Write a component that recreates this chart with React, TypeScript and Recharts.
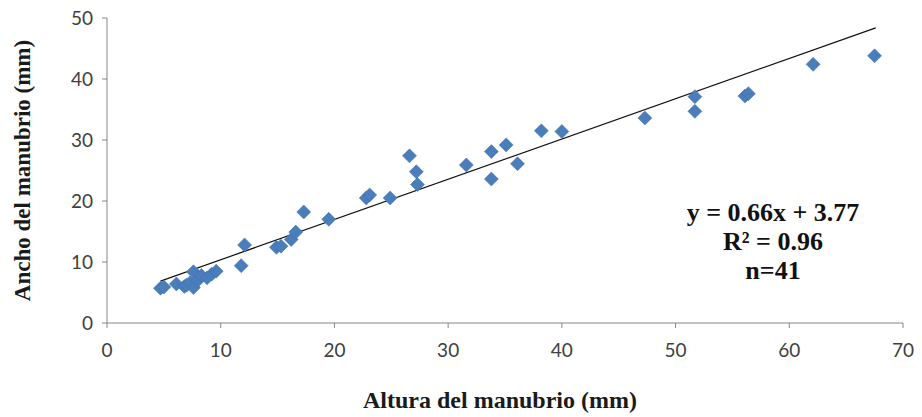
import * as React from 'react'
import {
  ScatterChart,
  Scatter,
  XAxis,
  YAxis,
  ReferenceLine
} from 'recharts'

// Altura del manubrio (mm)
const alturas = [
  4.7, 5.0, 6.1, 6.8, 7.0, 7.3, 7.6, 7.6, 8.0, 8.3,
  8.8, 9.2, 9.6, 11.8, 12.1, 14.9, 15.3, 16.2, 16.6, 17.3,
  19.5, 22.8, 23.1, 24.9, 26.6, 27.2, 27.3, 31.6, 33.8, 33.8,
  35.1, 36.1, 38.2, 40.0, 47.3, 51.7, 51.7, 56.1, 56.4, 62.1,
  67.5
]

// Ancho del manubrio (mm)
const anchos = [
  5.7, 5.9, 6.4, 6.0, 6.2, 6.6, 5.8, 8.4, 7.0, 7.8,
  7.4, 8.0, 8.5, 9.4, 12.8, 12.4, 12.6, 13.7, 14.9, 18.2,
  17.0, 20.5, 21.0, 20.5, 27.4, 24.8, 22.7, 25.9, 28.1, 23.6,
  29.2, 26.1, 31.5, 31.4, 33.6, 37.1, 34.7, 37.2, 37.6, 42.4,
  43.8
]

const xTicks = [0, 10, 20, 30, 40, 50, 60, 70]
const yTicks = [0, 10, 20, 30, 40, 50]

const slope = 0.66
const intercept = 3.77
const trendFrom = 4.7
const trendTo = 67.6

const data = alturas.map((x, i) => ({ x, y: anchos[i] }))

const Diamond = (props: any) => {
  const { cx, cy } = props
  const r = 7
  return (
    <polygon
      points={`${cx},${cy - r} ${cx + r},${cy} ${cx},${cy + r} ${cx - r},${cy}`}
      fill="#4A7EBB"
      stroke="#3E6FA8"
      strokeWidth={0.5}
    />
  )
}

const serif = '"Liberation Serif", "Times New Roman", serif'
const sans = 'Lato, "Open Sans", sans-serif'

export default function App() {
  return (
    <div style={{ position: 'absolute', left: 0, top: 0, width: 922, height: 417, background: '#fff' }}>
      <ScatterChart
        width={922}
        height={417}
        margin={{ top: 18, right: 19, bottom: 0, left: 0 }}
      >
        <XAxis
          type="number"
          dataKey="x"
          domain={[0, 70]}
          ticks={xTicks}
          height={94}
          stroke="#868686"
          tickSize={5}
          tickMargin={16}
          tick={{ fill: '#404040', fontSize: 19, fontFamily: sans }}
          label={({ viewBox }: any) => (
            <text
              x={500}
              y={408}
              textAnchor="middle"
              fontFamily={serif}
              fontWeight="bold"
              fontSize={24}
              fill="#1a1a1a"
            >
              Altura del manubrio (mm)
            </text>
          )}
        />
        <YAxis
          type="number"
          dataKey="y"
          domain={[0, 50]}
          ticks={yTicks}
          width={107}
          stroke="#868686"
          tickSize={5}
          tickMargin={9}
          tick={{ fill: '#404040', fontSize: 19, fontFamily: sans }}
          label={({ viewBox }: any) => {
            const cy = viewBox.y + viewBox.height / 2
            return (
              <text
                x={25}
                y={cy}
                transform={`rotate(-90 25 ${cy})`}
                textAnchor="middle"
                dominantBaseline="middle"
                fontFamily={serif}
                fontWeight="bold"
                fontSize={23}
                fill="#1a1a1a"
              >
                Ancho del manubrio (mm)
              </text>
            )
          }}
        />
        <ReferenceLine
          segment={[
            { x: trendFrom, y: slope * trendFrom + intercept },
            { x: trendTo, y: slope * trendTo + intercept }
          ]}
          stroke="#111"
          strokeWidth={1.2}
          ifOverflow="visible"
        />
        <Scatter data={data} shape={Diamond} isAnimationActive={false} />
      </ScatterChart>
      <div
        style={{
          position: 'absolute',
          left: 623,
          top: 198,
          width: 300,
          textAlign: 'center',
          fontFamily: serif,
          fontWeight: 'bold',
          fontSize: 26,
          lineHeight: '29px',
          color: '#111'
        }}
      >
        <div>y = 0.66x + 3.77</div>
        <div>R² = 0.96</div>
        <div>n=41</div>
      </div>
    </div>
  )
}
